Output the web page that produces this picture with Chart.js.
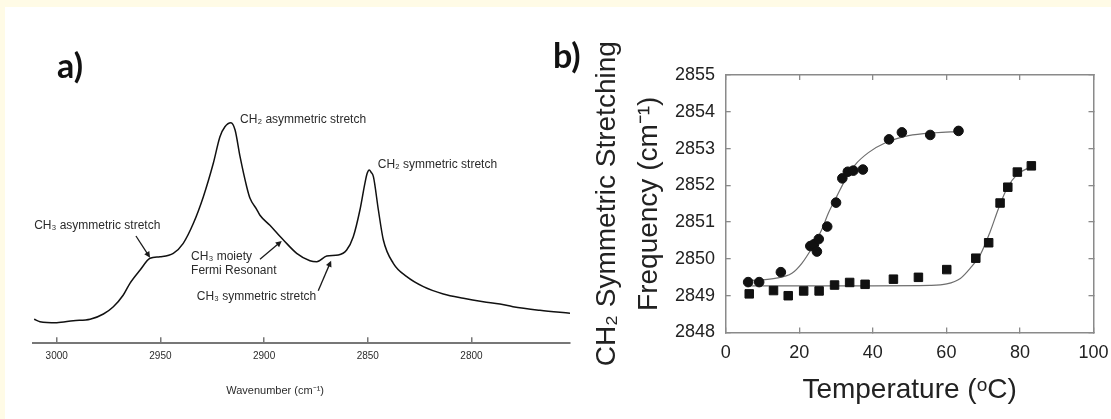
<!DOCTYPE html>
<html>
<head>
<meta charset="utf-8">
<script src="https://cdn.jsdelivr.net/npm/chart.js@4.4.1/dist/chart.umd.min.js"></script>
<style>
html, body { margin: 0; padding: 0; }
body { width: 1111px; height: 419px; background: #fffbe6; position: relative; overflow: hidden; }
#sheet { position: absolute; left: 5px; top: 7px; right: 0; bottom: 0; background: #fff; }
canvas { position: absolute; top: 0; }
#spectrum { left: 0; }
#melting { left: 560px; }
.tag { position: absolute; font: 700 34px Lato, "Open Sans", sans-serif; line-height: 34px; color: #111; }
</style>
</head>
<body>
<div id="sheet"></div>
<canvas id="spectrum" width="575" height="419"></canvas>
<canvas id="melting" width="551" height="419"></canvas>
<div class="tag" style="left:57px; top:48px;">a)</div>
<div class="tag" style="left:553px; top:38px;">b)</div>
<script>
// panel a: IR spectrum (wavenumber in cm-1, intensity in arbitrary units)
const wavenumber = [3010.9, 3008.1, 3000, 2992.0, 2983.9, 2977.5, 2972.7, 2967.9, 2964.7, 2959.8,
    2955.0, 2950.2, 2943.8, 2939.0, 2934.1, 2929.3, 2924.5, 2921.3, 2918.9, 2916.0,
    2914.0, 2911.6, 2908.4, 2906.8, 2903.6, 2902.0, 2897.2, 2892.4, 2890.7, 2884.3,
    2877.9, 2874.6, 2869.8, 2864.2, 2860.2, 2857.0, 2853.8, 2851.4, 2850.3, 2849.3,
    2848.4, 2847.3, 2844.9, 2842.5, 2837.7, 2831.2, 2823.2, 2813.6, 2803.9, 2794.3,
    2786.3, 2780.0, 2767.0, 2752.5];
const intensity = [24, 21.6, 20.6, 22.6, 24, 29.3, 36.6, 48.3, 60, 73.3,
    85, 86.6, 90, 100, 120, 146.6, 180, 206.6, 216.6, 220.6,
    213.3, 186.6, 156.6, 145, 134, 128, 118, 107, 103.3, 90,
    82.6, 81.6, 87.3, 88.3, 93.3, 106.6, 133.3, 160, 170, 173.3,
    171, 166.6, 133.3, 103.3, 80, 66.6, 56.6, 49.3, 45, 41.6,
    39.3, 36.6, 33, 30];
const wavenumberTicks = [3000, 2950, 2900, 2850, 2800];

// band labels of panel a
const noteLabels = ['CH₂ asymmetric stretch', 'CH₂ symmetric stretch', 'CH₃ asymmetric stretch',
    'CH₃ moiety', 'Fermi Resonant', 'CH₃ symmetric stretch'];
const noteWn = [2911.6, 2845.2, 3010.9, 2935.2, 2935.2, 2932.5];
const noteLevel = [223.3, 178.3, 117.3, 86.6, 72.6, 46.6];
// arrows: [fromWn, fromLevel, toWn, toLevel]
const noteArrows = [
    [2961.8, 107.3, 2955.0, 85.6],
    [2902.0, 84.0, 2891.5, 102.3],
    [2873.9, 52.6, 2867.7, 82.6],
];

// panel b: CH2 symmetric stretching frequency vs temperature
const circleTemp = [6.1, 9.1, 15.0, 23.0, 24.0, 24.8, 25.3, 27.6, 30.0, 31.7, 33.2, 34.7, 37.3, 44.4, 47.9, 55.6, 63.3];
const circleFreq = [2849.37, 2849.37, 2849.64, 2850.35, 2850.40, 2850.20, 2850.54, 2850.88, 2851.53, 2852.19,
    2852.37, 2852.40, 2852.43, 2853.25, 2853.44, 2853.37, 2853.48];
const squareTemp = [6.4, 13.0, 17.0, 21.2, 25.4, 29.6, 33.7, 37.9, 45.6, 52.4, 60.1, 68.0, 71.5, 74.6, 76.7, 79.3, 83.1];
const squareFreq = [2849.05, 2849.14, 2849.00, 2849.13, 2849.13, 2849.29, 2849.36, 2849.31, 2849.45, 2849.50,
    2849.71, 2850.02, 2850.44, 2851.52, 2851.95, 2852.36, 2852.53];
const circleFitTemp = [6.1, 13.4, 18.0, 20.7, 23.4, 26.1, 27.9, 30.2, 32.5, 35.2, 38.8, 43.3, 49.7, 57.0, 63.3];
const circleFitFreq = [2849.41, 2849.47, 2849.61, 2849.88, 2850.29, 2850.79, 2851.24, 2851.70, 2852.15, 2852.56,
    2852.89, 2853.15, 2853.35, 2853.43, 2853.46];
const squareFitTemp = [5.8, 20, 40, 55.6, 60.1, 63.8, 66.5, 69.2, 71.9, 74.2, 76.5, 79.2, 83.1];
const squareFitFreq = [2849.27, 2849.27, 2849.27, 2849.28, 2849.32, 2849.47, 2849.75, 2850.11, 2850.74, 2851.38,
    2851.92, 2852.29, 2852.51];
const tempTicks = [0, 20, 40, 60, 80, 100];
const freqTicks = [2848, 2849, 2850, 2851, 2852, 2853, 2854, 2855];

Chart.defaults.font.family = '"Liberation Sans", Arial, sans-serif';
Chart.defaults.animation = false;
Chart.defaults.plugins.legend.display = false;
Chart.defaults.plugins.tooltip.enabled = false;

const pairs = (xs, ys) => xs.map((v, i) => ({ x: v, y: ys[i] }));
const fixTicks = (values) => (scale) => { scale.ticks = values.map((v) => ({ value: v })); };
const plain = (v) => String(v);
// keep the plot box exactly where the layout padding puts it
const noLabelOverflow = (scale) => { scale.paddingLeft = 0; scale.paddingRight = 0; scale.paddingTop = 0; scale.paddingBottom = 0; };

const spectrumNotes = {
    id: 'spectrumNotes',
    afterDatasetsDraw(chart) {
        const { ctx, chartArea } = chart;
        const x = chart.scales.x;
        const y = chart.scales.y;
        ctx.save();
        ctx.fillStyle = '#2b2b2b';
        ctx.strokeStyle = '#1a1a1a';
        ctx.textBaseline = 'middle';
        ctx.textAlign = 'left';
        ctx.font = '12px "Liberation Sans", Arial, sans-serif';
        noteLabels.forEach((t, i) => {
            ctx.fillText(t, x.getPixelForValue(noteWn[i]), y.getPixelForValue(noteLevel[i]));
        });
        noteArrows.forEach((a) => {
            const x1 = x.getPixelForValue(a[0]), y1 = y.getPixelForValue(a[1]);
            const x2 = x.getPixelForValue(a[2]), y2 = y.getPixelForValue(a[3]);
            const ang = Math.atan2(y2 - y1, x2 - x1);
            ctx.lineWidth = 1.3;
            ctx.beginPath();
            ctx.moveTo(x1, y1);
            ctx.lineTo(x2 - 4 * Math.cos(ang), y2 - 4 * Math.sin(ang));
            ctx.stroke();
            ctx.beginPath();
            ctx.moveTo(x2, y2);
            ctx.lineTo(x2 - 6 * Math.cos(ang) + 3 * Math.sin(ang), y2 - 6 * Math.sin(ang) - 3 * Math.cos(ang));
            ctx.lineTo(x2 - 6 * Math.cos(ang) - 3 * Math.sin(ang), y2 - 6 * Math.sin(ang) + 3 * Math.cos(ang));
            ctx.closePath();
            ctx.fillStyle = '#1a1a1a';
            ctx.fill();
        });
        // axis caption, sits a little left of the axis centre like the original
        ctx.fillStyle = '#2b2b2b';
        ctx.textAlign = 'center';
        ctx.font = '11px "Liberation Sans", Arial, sans-serif';
        ctx.fillText('Wavenumber (cm⁻¹)', x.getPixelForValue(2894.7), chartArea.bottom + 47.4);
        ctx.restore();
    },
};

new Chart(document.getElementById('spectrum'), {
    type: 'line',
    data: {
        datasets: [{
            data: pairs(wavenumber, intensity),
            borderColor: '#111',
            borderWidth: 1.5,
            pointRadius: 0,
            cubicInterpolationMode: 'monotone',
        }],
    },
    options: {
        responsive: false,
        layout: { padding: { left: 33.3, right: 5, top: 43.3, bottom: 0 } },
        scales: {
            x: {
                type: 'linear',
                reverse: true,
                min: 2752.5,
                max: 3011.3,
                afterBuildTicks: fixTicks(wavenumberTicks),
                afterFit: (scale) => { scale.height = 75.7; noLabelOverflow(scale); },
                grid: { drawOnChartArea: false, drawTicks: true, tickLength: -6, color: '#777', lineWidth: 1.5 },
                border: { display: true, color: '#777', width: 2 },
                ticks: { padding: 12.7, color: '#2b2b2b', font: { size: 10 }, callback: plain },
            },
            y: { display: false, min: 0, max: 300 },
        },
    },
    plugins: [spectrumNotes],
});

const boxGrid = { drawOnChartArea: false, drawTicks: true, tickLength: -5, color: '#8a8a8a', lineWidth: 1.3 };
const boxBorder = { display: true, color: '#8a8a8a', width: 1.5 };

new Chart(document.getElementById('melting'), {
    type: 'scatter',
    data: {
        datasets: [
            {
                data: pairs(circleTemp, circleFreq),
                pointStyle: 'circle',
                pointRadius: 4.8,
                backgroundColor: '#111',
                borderColor: '#111',
                borderWidth: 1,
            },
            {
                data: pairs(squareTemp, squareFreq),
                pointStyle: 'rect',
                pointRadius: 6,
                backgroundColor: '#111',
                borderColor: '#111',
                borderWidth: 1,
            },
            {
                data: pairs(circleFitTemp, circleFitFreq),
                showLine: true,
                pointRadius: 0,
                borderColor: '#6e6e6e',
                borderWidth: 1.2,
                cubicInterpolationMode: 'monotone',
            },
            {
                data: pairs(squareFitTemp, squareFitFreq),
                showLine: true,
                pointRadius: 0,
                borderColor: '#6e6e6e',
                borderWidth: 1.2,
                cubicInterpolationMode: 'monotone',
            },
        ],
    },
    options: {
        responsive: false,
        layout: { padding: { left: 0, right: 17.5, top: 75, bottom: 0 } },
        scales: {
            x: {
                type: 'linear',
                position: 'bottom',
                min: 0,
                max: 100,
                afterBuildTicks: fixTicks(tempTicks),
                afterFit: (scale) => { scale.height = 86.5; noLabelOverflow(scale); },
                grid: boxGrid,
                border: boxBorder,
                ticks: { padding: 15, color: '#222', font: { size: 18 }, callback: plain },
                title: {
                    display: true,
                    text: 'Temperature (ᵒC)',
                    color: '#222',
                    font: { size: 28 },
                    padding: { top: 0, bottom: 12.2 },
                },
            },
            x2: {
                type: 'linear',
                position: 'top',
                min: 0,
                max: 100,
                afterBuildTicks: fixTicks(tempTicks),
                afterFit: (scale) => { scale.height = 0; noLabelOverflow(scale); },
                grid: boxGrid,
                border: boxBorder,
                ticks: { display: false },
            },
            y: {
                type: 'linear',
                position: 'left',
                min: 2848,
                max: 2855,
                afterBuildTicks: fixTicks(freqTicks),
                afterFit: (scale) => { scale.width = 165.7; noLabelOverflow(scale); },
                grid: boxGrid,
                border: boxBorder,
                ticks: { padding: 15.7, color: '#222', font: { size: 18 }, callback: plain },
                title: {
                    display: true,
                    text: ['CH₂ Symmetric Stretching', 'Frequency (cm⁻¹)'],
                    color: '#222',
                    font: { size: 28, lineHeight: 1.5 },
                    padding: { top: 26, bottom: 0 },
                },
            },
            y2: {
                type: 'linear',
                position: 'right',
                min: 2848,
                max: 2855,
                afterBuildTicks: fixTicks(freqTicks),
                afterFit: (scale) => { scale.width = 0; noLabelOverflow(scale); },
                grid: boxGrid,
                border: boxBorder,
                ticks: { display: false },
            },
        },
    },
});
</script>
</body>
</html>
